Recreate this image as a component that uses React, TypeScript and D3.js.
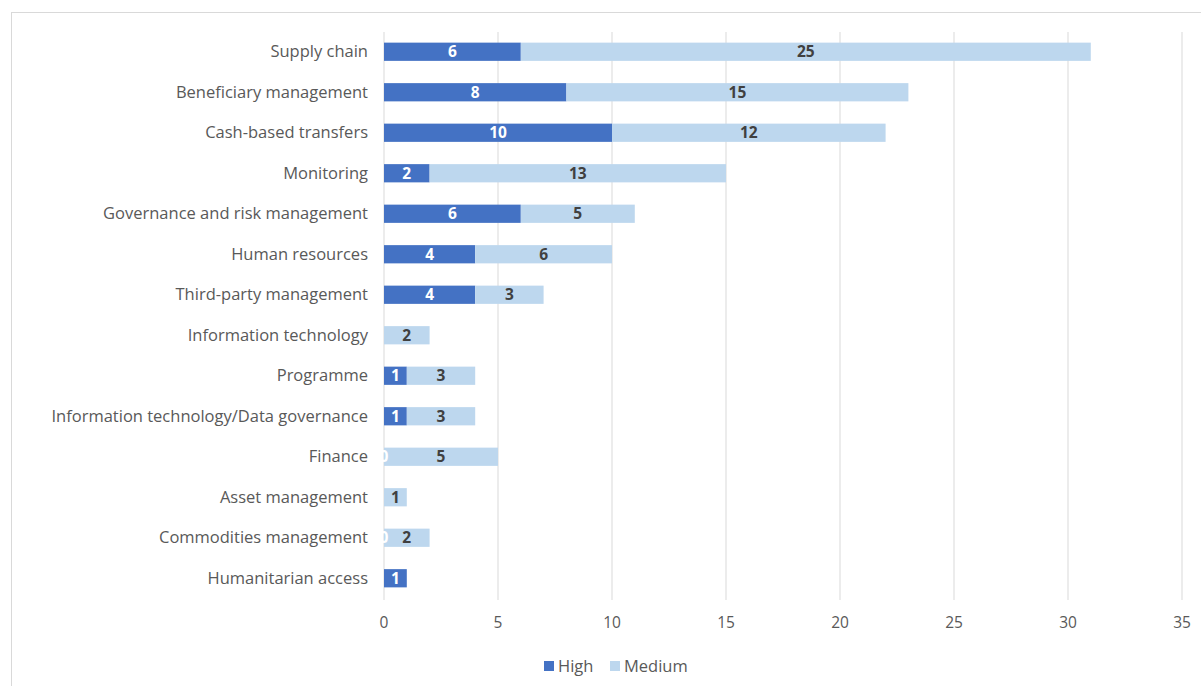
import React from "react";
import * as d3 from "d3";

const categories = [
  "Supply chain",
  "Beneficiary management",
  "Cash-based transfers",
  "Monitoring",
  "Governance and risk management",
  "Human resources",
  "Third-party management",
  "Information technology",
  "Programme",
  "Information technology/Data governance",
  "Finance",
  "Asset management",
  "Commodities management",
  "Humanitarian access",
];
const highValues: (number | null)[] = [6, 8, 10, 2, 6, 4, 4, null, 1, 1, 0, null, 0, 1];
const mediumValues: (number | null)[] = [25, 15, 12, 13, 5, 6, 3, 2, 3, 3, 5, 1, 2, null];
const xTicks = [0, 5, 10, 15, 20, 25, 30, 35];

const HIGH = "#4472c4";
const MED = "#bdd7ee";
const FONT = "'Open Sans', sans-serif";

export default function App() {
  const W = 1201, H = 686;
  const x = d3.scaleLinear().domain([0, 35]).range([384, 1182]);
  const y = d3.scaleBand().domain(categories).range([31.5, 598.5]).paddingInner(0.55).paddingOuter(0.275);
  const bh = y.bandwidth();
  return (
    <svg width={W} height={H} style={{ position: "absolute", left: 0, top: 0, background: "#fff" }}>
      <rect x={11.5} y={12.5} width={1200} height={690} fill="#fff" stroke="#d9d9d9" strokeWidth={1} />
      {xTicks.map((t) => (
        <g key={t}>
          <line x1={x(t)} x2={x(t)} y1={32} y2={600} stroke="#d9d9d9" strokeWidth={1} />
          <text x={x(t)} y={628} textAnchor="middle" fontFamily={FONT} fontSize={15.5} fill="#595959">{t}</text>
        </g>
      ))}
      {categories.map((c, i) => {
        const yy = y(c)!;
        const hv = highValues[i];
        const mv = mediumValues[i];
        const h0 = hv ?? 0;
        const cy = yy + bh / 2;
        return (
          <g key={c}>
            <text x={368} y={cy + 5.5} textAnchor="end" fontFamily={FONT} fontSize={16.5} fill="#595959">{c}</text>
            {hv !== null && hv > 0 && (
              <rect x={x(0)} y={yy} width={x(hv) - x(0)} height={bh} fill={HIGH} />
            )}
            {mv !== null && (
              <rect x={x(h0)} y={yy} width={x(h0 + mv) - x(h0)} height={bh} fill={MED} />
            )}
            {hv !== null && (
              <text x={x(hv / 2)} y={cy + 5.5} textAnchor="middle" fontFamily={FONT} fontSize={15.5} fontWeight="bold" fill="#fff">{hv}</text>
            )}
            {mv !== null && (
              <text x={x(h0 + mv / 2)} y={cy + 5.5} textAnchor="middle" fontFamily={FONT} fontSize={15.5} fontWeight="bold" fill="#404040">{mv}</text>
            )}
          </g>
        );
      })}
      <rect x={544} y={661} width={10} height={10} fill={HIGH} />
      <text x={558} y={672} fontFamily={FONT} fontSize={16.5} fill="#595959">High</text>
      <rect x={610} y={661} width={10} height={10} fill={MED} />
      <text x={624} y={672} fontFamily={FONT} fontSize={16.5} fill="#595959">Medium</text>
    </svg>
  );
}
